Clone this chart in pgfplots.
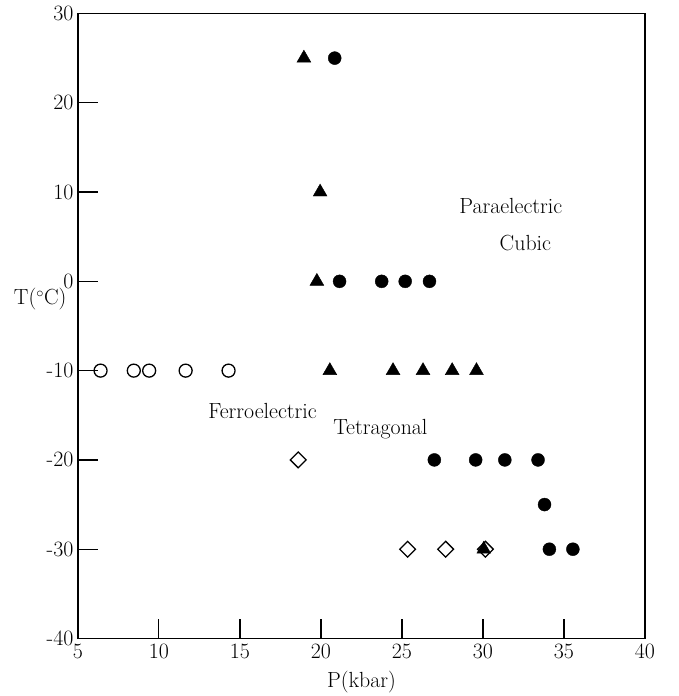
\documentclass[border=0pt]{standalone}
\usepackage{pgfplots}
\pgfplotsset{compat=1.18}

\newcommand{\chartfont}{\fontsize{22}{26}\selectfont}

\begin{document}
\begin{tikzpicture}[font=\chartfont]
\begin{axis}[
    scale only axis, width=568bp, height=626bp,
    xmin=5, xmax=40, ymin=-40, ymax=30,
    xtick={5,10,...,40},
    ytick={-40,-30,...,30},
    yticklabels={-40,-30,-20,-10,0,10,20,30},
    xticklabels={5,10,15,20,25,30,35,40},
    tick align=inside, major tick length=20bp,
    xtick pos=lower, ytick pos=left,
    axis line style={line width=1.6bp},
    every tick/.style={line width=1.2bp, black},
    ticklabel style={font=\chartfont},
    label style={font=\chartfont},
    xticklabel style={yshift=-2bp},
    yticklabel style={xshift=-1bp},
    xlabel={P(kbar)},
    xlabel style={yshift=-5bp},
    clip=false,
]
% filled triangles
\addplot[only marks, mark=triangle*, mark size=8bp, black] coordinates {
    (18.95,25) (19.95,10) (19.75,0) (20.55,-10) (24.45,-10)
    (26.3,-10) (28.1,-10) (29.6,-10) (30.05,-30)
};
% filled circles
\addplot[only marks, mark=*, mark size=6.5bp, black] coordinates {
    (20.85,25) (21.15,0) (23.75,0) (25.2,0) (26.7,0)
    (27,-20) (29.55,-20) (31.35,-20) (33.4,-20) (33.8,-25)
    (34.1,-30) (35.55,-30)
};
% open circles
\addplot[only marks, mark=o, mark size=6.5bp, black, mark options={line width=1.3bp}] coordinates {
    (6.4,-10) (8.45,-10) (9.4,-10) (11.65,-10) (14.3,-10)
};
% open diamonds
\addplot[only marks, mark=square, mark size=5.6bp, black, mark options={rotate=45, line width=1.3bp}] coordinates {
    (18.6,-20) (25.35,-30) (27.7,-30) (30.15,-30)
};
\node at (axis cs:31.72,8.4) {Paraelectric};
\node at (axis cs:32.62,4.3) {Cubic};
\node at (axis cs:16.4,-14.5) {Ferroelectric};
\node at (axis cs:23.67,-16.6) {Tetragonal};
\node[anchor=east] at (rel axis cs:0,0.543) [xshift=-8bp] {T($^\circ$C)};
\coordinate (sw) at (rel axis cs:0,0);
\end{axis}
\path (sw) ++(-78bp,-56.5bp) rectangle ++(680bp,696bp);
\end{tikzpicture}
\end{document}
